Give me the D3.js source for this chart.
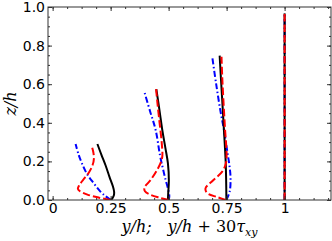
<!DOCTYPE html>
<html>
<head>
<meta charset="utf-8">
<script src="https://cdn.jsdelivr.net/npm/d3@7"></script>
<style>
  body { margin: 0; background: #fff; }
  svg text { font-family: "DejaVu Sans", sans-serif; }
</style>
</head>
<body>
<div id="chart"></div>
<script>
// profiles: [x, z] pairs
var black1 = [[0.25,0],[0.258,0.01],[0.264,0.025],[0.265,0.043],[0.26,0.07],[0.245,0.12],[0.228,0.18],[0.21,0.235],[0.193,0.29]];
var red1 = [[0.25,0],[0.2,0.012],[0.15,0.028],[0.118,0.045],[0.109,0.058],[0.114,0.075],[0.132,0.105],[0.155,0.14],[0.172,0.18],[0.178,0.215],[0.175,0.25],[0.167,0.285]];
var blue1 = [[0.25,0],[0.228,0.02],[0.205,0.045],[0.175,0.09],[0.148,0.135],[0.128,0.185],[0.112,0.235],[0.099,0.29]];

var black2 = [[0.497,0],[0.498,0.03],[0.501,0.1],[0.497,0.19],[0.486,0.27],[0.473,0.36],[0.46,0.47],[0.447,0.574]];
var red2 = [[0.5,0],[0.46,0.012],[0.42,0.028],[0.398,0.045],[0.396,0.065],[0.42,0.1],[0.45,0.155],[0.468,0.2],[0.473,0.23],[0.47,0.3],[0.461,0.4],[0.452,0.5],[0.446,0.574]];
var blue2 = [[0.5,0],[0.503,0.02],[0.497,0.06],[0.487,0.104],[0.474,0.17],[0.463,0.23],[0.444,0.363],[0.42,0.46],[0.394,0.566]];

var black3 = [[0.749,0],[0.748,0.1],[0.746,0.198],[0.742,0.29],[0.738,0.371],[0.731,0.52],[0.725,0.64],[0.72,0.748]];
var red3 = [[0.746,0],[0.71,0.015],[0.667,0.035],[0.659,0.06],[0.69,0.1],[0.731,0.147],[0.747,0.19],[0.75,0.233],[0.743,0.371],[0.736,0.52],[0.731,0.64],[0.728,0.742]];
var blue3 = [[0.749,0],[0.763,0.043],[0.767,0.112],[0.762,0.18],[0.753,0.25],[0.739,0.36],[0.724,0.457],[0.705,0.6],[0.688,0.742]];

var black4 = [[1,0],[1,0.967]];
var red4 = [[1,0],[1,0.967]];
var blue4 = [[1,0],[1,0.967]];

var xTicks = [0, 0.25, 0.5, 0.75, 1];
var xTickLabels = ["0", "0.25", "0.5", "0.75", "1"];
var yTicks = [0, 0.2, 0.4, 0.6, 0.8, 1.0];

var width = 332, height = 241;
var margin = {left: 48, right: 1, top: 7, bottom: 41};

var svg = d3.select("#chart").append("svg")
    .attr("width", width)
    .attr("height", height);

var x = d3.scaleLinear().domain([-0.02, 1.2]).range([margin.left, width - margin.right]);
var y = d3.scaleLinear().domain([0, 1]).range([height - margin.bottom, margin.top]);

svg.append("clipPath").attr("id", "clip")
  .append("rect")
    .attr("x", margin.left).attr("y", margin.top)
    .attr("width", width - margin.left - margin.right)
    .attr("height", height - margin.top - margin.bottom);

var line = d3.line()
    .x(function (d) { return x(d[0]); })
    .y(function (d) { return y(d[1]); })
    .curve(d3.curveCatmullRom);

var plot = svg.append("g").attr("clip-path", "url(#clip)");

var addCurve = function (data, color, dash) {
    plot.append("path")
        .datum(data)
        .attr("d", line)
        .attr("fill", "none")
        .attr("stroke", color)
        .attr("stroke-width", 2)
        .attr("stroke-dasharray", dash);
};

[blue1, blue2, blue3, blue4].forEach(function (d) { addCurve(d, "#0000ff", "6,2.5,1.5,2.5"); });
[black1, black2, black3, black4].forEach(function (d) { addCurve(d, "#000", null); });
[red1, red2, red3, red4].forEach(function (d) { addCurve(d, "#ff0000", "7.5,3"); });

// minor ticks
var xMinor = d3.range(0, 1.21, 0.0625);
var yMinor = d3.range(0, 1.001, 0.05);

var axisColor = "#333";

svg.append("g").attr("transform", "translate(0," + y(0) + ")")
    .call(d3.axisBottom(x).tickValues(xTicks).tickFormat(function (d, i) { return xTickLabels[i]; })
        .tickSizeInner(-4).tickSizeOuter(0).tickPadding(3));
svg.append("g").attr("transform", "translate(0," + y(1) + ")")
    .call(d3.axisTop(x).tickValues(xTicks).tickFormat("").tickSizeInner(-4).tickSizeOuter(0));
svg.append("g").attr("transform", "translate(" + x(-0.02) + ",0)")
    .call(d3.axisLeft(y).tickValues(yTicks).tickFormat(d3.format(".1f"))
        .tickSizeInner(-4).tickSizeOuter(0).tickPadding(3));
svg.append("g").attr("transform", "translate(" + x(1.2) + ",0)")
    .call(d3.axisRight(y).tickValues(yTicks).tickFormat("").tickSizeInner(-4).tickSizeOuter(0));

svg.append("g").attr("transform", "translate(0," + y(0) + ")")
    .call(d3.axisBottom(x).tickValues(xMinor).tickFormat("").tickSizeInner(-2).tickSizeOuter(0));
svg.append("g").attr("transform", "translate(0," + y(1) + ")")
    .call(d3.axisTop(x).tickValues(xMinor).tickFormat("").tickSizeInner(-2).tickSizeOuter(0));
svg.append("g").attr("transform", "translate(" + x(-0.02) + ",0)")
    .call(d3.axisLeft(y).tickValues(yMinor).tickFormat("").tickSizeInner(-2).tickSizeOuter(0));
svg.append("g").attr("transform", "translate(" + x(1.2) + ",0)")
    .call(d3.axisRight(y).tickValues(yMinor).tickFormat("").tickSizeInner(-2).tickSizeOuter(0));

svg.selectAll(".domain").remove();
svg.selectAll(".tick line").attr("stroke", axisColor);
svg.selectAll(".tick text")
    .attr("fill", "#000")
    .style("font-size", "14px")
    .style("font-family", "'DejaVu Sans', sans-serif");

svg.append("rect")
    .attr("x", x(-0.02)).attr("y", y(1))
    .attr("width", x(1.2) - x(-0.02))
    .attr("height", y(0) - y(1))
    .attr("fill", "none")
    .attr("stroke", axisColor)
    .attr("stroke-width", 1);

// axis titles
var serif = "'DejaVu Serif', serif";
var xl = svg.append("text")
    .attr("x", (x(-0.02) + x(1.2)) / 2)
    .attr("y", 232)
    .attr("text-anchor", "middle")
    .style("font-family", serif)
    .style("font-size", "16px");
xl.append("tspan").style("font-style", "italic").text("y/h;");
xl.append("tspan").attr("dx", 16).style("font-style", "italic").text("y/h");
xl.append("tspan").text(" + 30");
xl.append("tspan").style("font-style", "italic").text("τ");
xl.append("tspan").attr("dy", 4).style("font-style", "italic").style("font-size", "11px").text("xy");

svg.append("text")
    .attr("transform", "translate(16," + (y(0) + y(1)) / 2 + ") rotate(-90)")
    .attr("text-anchor", "middle")
    .style("font-family", serif)
    .style("font-style", "italic")
    .style("font-size", "16px")
    .text("z/h");
</script>
</body>
</html>
